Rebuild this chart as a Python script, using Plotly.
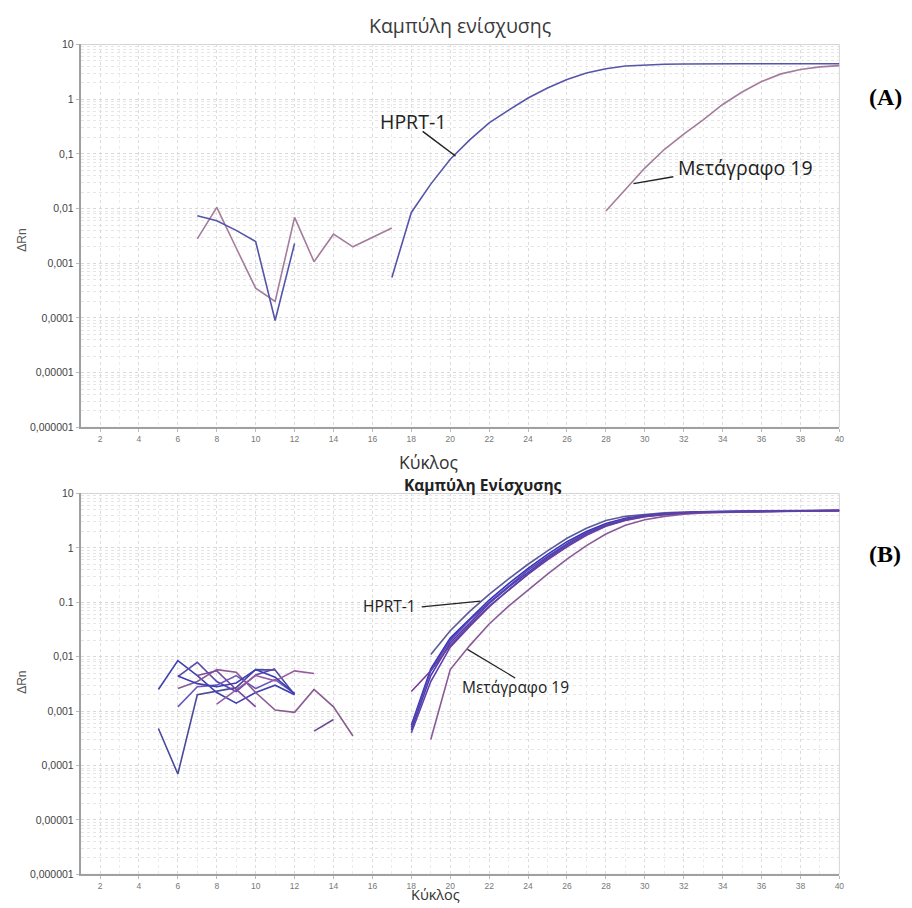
import plotly.graph_objects as go

W, H = 912, 908

# ---------------- data (panel A) ----------------
a_hprt_noise_cyc = [7, 8, 9, 10, 11, 12]
a_hprt_noise_val = [0.0074, 0.006, 0.004, 0.0025, 0.00009, 0.0023]
a_hprt_amp_cyc = list(range(17, 41))
a_hprt_amp_val = [0.00055, 0.0085, 0.028, 0.08, 0.18, 0.37, 0.63, 1.05, 1.6, 2.3,
                  3.0, 3.6, 4.05, 4.25, 4.35, 4.4, 4.45, 4.45, 4.45, 4.45, 4.45,
                  4.45, 4.45, 4.45]
a_t19_noise_cyc = list(range(7, 18))
a_t19_noise_val = [0.0028, 0.0105, 0.0019, 0.00035, 0.0002, 0.0069, 0.00107,
                   0.0034, 0.002, 0.003, 0.0044]
a_t19_amp_cyc = list(range(28, 41))
a_t19_amp_val = [0.009, 0.022, 0.055, 0.12, 0.23, 0.42, 0.8, 1.35, 2.1, 2.9, 3.5,
                 3.9, 4.1]

# ---------------- data (panel B) ----------------
b_noise = [
    (list(range(5, 13)), [0.0025, 0.0085, 0.0045, 0.0022, 0.0014, 0.0022, 0.003, 0.002]),
    (list(range(5, 13)), [0.00048, 0.00007, 0.002, 0.0023, 0.0027, 0.0058, 0.0057, 0.002]),
    (list(range(6, 12)), [0.0043, 0.0079, 0.0035, 0.0023, 0.0046, 0.006]),
    (list(range(6, 13)), [0.0012, 0.0028, 0.003, 0.0045, 0.0026, 0.0038, 0.0021]),
    (list(range(6, 16)), [0.0026, 0.0035, 0.0058, 0.0052, 0.0022, 0.00105, 0.00095,
                          0.0025, 0.0012, 0.00035]),
    (list(range(8, 14)), [0.00135, 0.0025, 0.0045, 0.0036, 0.0055, 0.0049]),
    (list(range(7, 11)), [0.0045, 0.0055, 0.0025, 0.0012]),
    (list(range(13, 15)), [0.00043, 0.0007]),
    (list(range(6, 13)), [0.0044, 0.0032, 0.0028, 0.0033, 0.0058, 0.0042, 0.0021]),
]
b_noise_colors = ["#4040b0", "#4a4a9a", "#5a4ab0", "#6a5ab8", "#8a5a90",
                  "#9a5aa0", "#7a4aa0", "#6a4a90", "#3c3cb8"]

b_amp = [
    (list(range(19, 41)), [0.011, 0.03, 0.068, 0.14, 0.27, 0.5, 0.88, 1.5, 2.3, 3.2,
                           3.8, 4.15, 4.4, 4.55, 4.65, 4.7, 4.75, 4.8, 4.8, 4.85,
                           4.85, 4.9]),
    (list(range(18, 41)), [0.00055, 0.006, 0.022, 0.05, 0.11, 0.22, 0.42, 0.76, 1.3,
                           2.0, 2.8, 3.5, 3.95, 4.25, 4.45, 4.6, 4.65, 4.7, 4.75,
                           4.8, 4.8, 4.85, 4.85]),
    (list(range(18, 41)), [0.00045, 0.0045, 0.018, 0.042, 0.095, 0.19, 0.36, 0.66,
                           1.15, 1.85, 2.65, 3.35, 3.85, 4.2, 4.4, 4.55, 4.6, 4.65,
                           4.7, 4.75, 4.75, 4.8, 4.8]),
    (list(range(18, 41)), [0.0023, 0.0055, 0.016, 0.038, 0.085, 0.17, 0.33, 0.6,
                           1.05, 1.7, 2.5, 3.2, 3.75, 4.1, 4.35, 4.5, 4.55, 4.6,
                           4.65, 4.7, 4.75, 4.75, 4.8]),
    (list(range(19, 41)), [0.0003, 0.0058, 0.016, 0.04, 0.085, 0.17, 0.33, 0.62, 1.1,
                           1.8, 2.6, 3.3, 3.8, 4.15, 4.4, 4.5, 4.6, 4.65, 4.7, 4.75,
                           4.8, 4.85]),
    (list(range(18, 41)), [0.0005, 0.0055, 0.02, 0.047, 0.1, 0.2, 0.39, 0.7, 1.2,
                           1.9, 2.7, 3.4, 3.9, 4.2, 4.4, 4.55, 4.6, 4.65, 4.7, 4.75,
                           4.8, 4.85, 4.85]),
    (list(range(18, 41)), [0.0004, 0.0035, 0.015, 0.036, 0.082, 0.17, 0.33, 0.62,
                           1.08, 1.75, 2.55, 3.25, 3.8, 4.15, 4.4, 4.5, 4.6, 4.65,
                           4.7, 4.75, 4.8, 4.85, 4.9]),
]
b_amp_colors = ["#5a5a98", "#3a30c0", "#4a3ab8", "#7a3a9a", "#8a5a98", "#5048b0", "#6040a8"]

y_tickvals = [10, 1, 0.1, 0.01, 0.001, 0.0001, 0.00001, 0.000001]
y_ticktext_a = ["10", "1", "0,1", "0,01", "0,001", "0,0001", "0,00001", "0,000001"]
y_ticktext_b = ["10", "1", "0.1", "0,01", "0,001", "0,0001", "0,00001", "0,000001"]
x_tickvals = list(range(2, 41, 2))

# ---------------- layout helpers ----------------
def px(x):
    return x / W

def py(y):
    return 1 - y / H

fig = go.Figure()

HPRT_A = "#5555aa"
T19_A = "#a47c9c"

def add(x, y, color, xa, ya):
    fig.add_trace(go.Scatter(x=x, y=y, mode="lines", line=dict(color=color, width=1.6),
                             xaxis=xa, yaxis=ya, showlegend=False, hoverinfo="skip"))

add(a_t19_noise_cyc, a_t19_noise_val, T19_A, "x", "y")
add(a_t19_amp_cyc, a_t19_amp_val, T19_A, "x", "y")
add(a_hprt_noise_cyc, a_hprt_noise_val, HPRT_A, "x", "y")
add(a_hprt_amp_cyc, a_hprt_amp_val, HPRT_A, "x", "y")

for (cx, cv), col in zip(b_noise, b_noise_colors):
    add(cx, cv, col, "x2", "y2")
for (cx, cv), col in zip(b_amp, b_amp_colors):
    add(cx, cv, col, "x2", "y2")

xdom = [px(81), px(844)]
ydom_a = [py(427), py(39)]
ydom_b = [py(880), py(494)]

tickfont_y = dict(family="Liberation Sans, Arial", size=10.5, color="#444")
tickfont_x = dict(family="Liberation Sans, Arial", size=8.5, color="#777")

def xaxis_cfg(anchor):
    return dict(domain=xdom, anchor=anchor, range=[1, 40], tickvals=x_tickvals,
                tickfont=tickfont_x, showline=True, linecolor="#a0a0a0", linewidth=1.5,
                ticks="outside", ticklen=3, tickcolor="#bbb",
                showgrid=True, gridcolor="#dcdcdc", griddash="dot", gridwidth=1,
                minor=dict(dtick=1, showgrid=True, gridcolor="#ececec", griddash="dot"),
                zeroline=False)

def yaxis_cfg(anchor, dom, ticktext):
    return dict(domain=dom, anchor=anchor, type="log", range=[-6, 1],
                tickvals=y_tickvals, ticktext=ticktext, tickfont=tickfont_y,
                showline=True, linecolor="#a0a0a0", linewidth=1.5,
                ticks="outside", ticklen=3, tickcolor="#bbb",
                showgrid=True, gridcolor="#d8d8d8", griddash="dot", gridwidth=1,
                minor=dict(dtick="D1", showgrid=True, gridcolor="#e6e6e6", griddash="dot"),
                zeroline=False)

fig.update_layout(
    width=W, height=H, autosize=False,
    margin=dict(l=0, r=0, t=0, b=0),
    paper_bgcolor="white", plot_bgcolor="white",
    xaxis=xaxis_cfg("y"),
    yaxis=yaxis_cfg("x", ydom_a, y_ticktext_a),
    xaxis2=xaxis_cfg("y2"),
    yaxis2=yaxis_cfg("x2", ydom_b, y_ticktext_b),
)

# light frame on top/right of plot areas
for top, bot in [(39, 427), (494, 880)]:
    fig.add_shape(type="rect", xref="paper", yref="paper", x0=px(81), x1=px(844),
                  y0=py(bot), y1=py(top), line=dict(color="#d4d4d4", width=1), layer="below")

ann = []
def text(x, y, s, size, color="#333", family="Open Sans, Noto Sans", bold=False, angle=0):
    t = f"<b>{s}</b>" if bold else s
    ann.append(dict(x=px(x), y=py(y), xref="paper", yref="paper", text=t, showarrow=False,
                    xanchor="center", yanchor="middle", textangle=angle,
                    font=dict(size=size, color=color, family=family)))

def seg(x0, y0, x1, y1, width=1.5):
    fig.add_shape(type="line", xref="paper", yref="paper", x0=px(x0), y0=py(y0),
                  x1=px(x1), y1=py(y1), line=dict(color="#222", width=width))

# Panel A
text(463, 20, "Καμπύλη ενίσχυσης", 19.5, "#3a3a3a")
text(431, 462, "Κύκλος", 17.5, "#333")
text(22, 237, "ΔRn", 12, "#555", "Liberation Sans, Arial", angle=-90)
text(415, 117, "HPRT-1", 19.5, "#222")
seg(425, 127, 458, 152)
text(750, 164, "Μετάγραφο 19", 19.5, "#222")
seg(677, 173, 637, 180)
text(890, 92, "(A)", 24, "#000", "Liberation Serif, Times New Roman", bold=True)

# Panel B
text(486, 485, "Καμπύλη Ενίσχυσης", 15.5, "#222", bold=True)
text(438, 900.5, "Κύκλος", 14.5, "#333")
text(22, 685, "ΔRn", 12, "#555", "Liberation Sans, Arial", angle=-90)
text(392, 608, "HPRT-1", 15.5, "#222")
seg(424, 609, 483, 603, 1.2)
text(518, 690, "Μετάγραφο 19", 15.5, "#222")
seg(518, 681, 470, 652, 1.2)
text(890, 555, "(B)", 24, "#000", "Liberation Serif, Times New Roman", bold=True)

fig.update_layout(annotations=ann)

fig.write_html("out.html", config={"displayModeBar": False},
               post_script="document.body.style.margin='0';")
